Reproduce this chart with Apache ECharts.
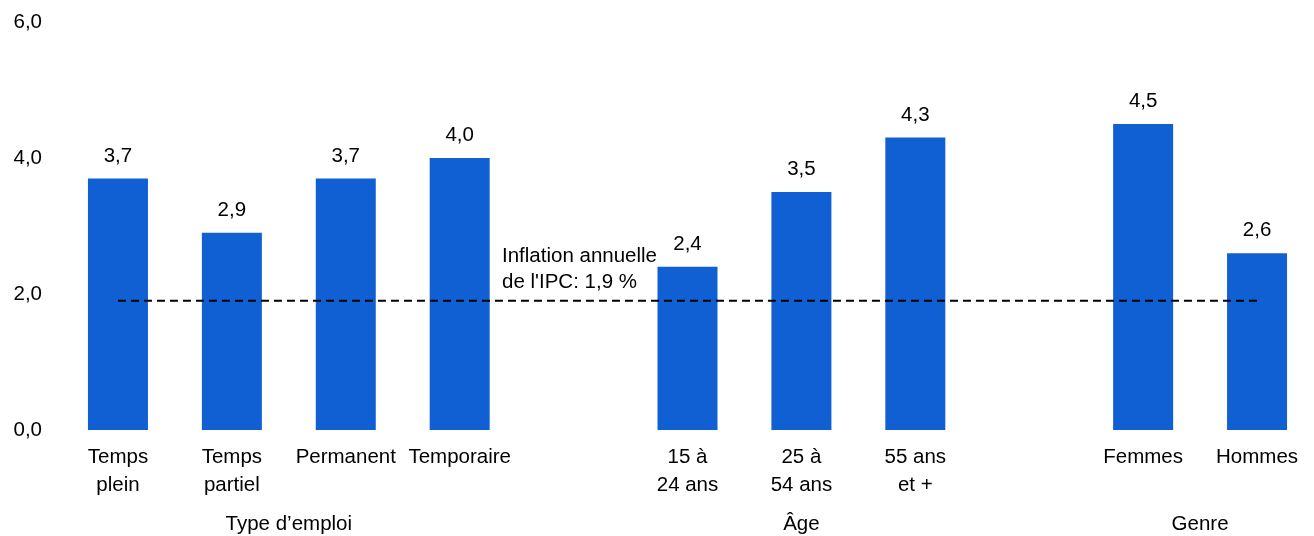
<!DOCTYPE html>
<html>
<head>
<meta charset="utf-8">
<script src="https://cdn.jsdelivr.net/npm/echarts@6/dist/echarts.min.js"></script>
<style>
  html, body { margin: 0; padding: 0; background: #fff; }
  #main { width: 1314px; height: 536px; }
</style>
</head>
<body>
<div id="main"></div>
<script>
// categories (empty slots separate the groups)
var categories = ['Temps\nplein', 'Temps\npartiel', 'Permanent', 'Temporaire', '',
  '15 à\n24 ans', '25 à\n54 ans', '55 ans\net +', '', 'Femmes', 'Hommes'];
var values = [3.7, 2.9, 3.7, 4.0, '-', 2.4, 3.5, 4.3, '-', 4.5, 2.6];
var inflation = 1.9;
var yTicks = [0, 2, 4, 6];
// group titles and the category span they sit under
var groups = [
  { name: 'Type d\u2019emploi', from: 1, to: 2 },
  { name: 'Âge', from: 6, to: 6 },
  { name: 'Genre', from: 9, to: 10 }
];

var FONT = "'Liberation Sans', Arial, sans-serif";
var SIZE = 20.5;
var fmt = function (v) { return Number(v).toFixed(1).replace('.', ','); };

var myChart = echarts.init(document.getElementById('main'));

var option = {
  animation: false,
  grid: { left: 61, right: -5, top: 22, bottom: 106 },
  xAxis: {
    type: 'category',
    data: categories,
    axisLine: { show: false },
    axisTick: { show: false },
    axisLabel: {
      interval: 0,
      color: '#000',
      fontSize: SIZE,
      fontFamily: FONT,
      lineHeight: 28,
      margin: 13
    }
  },
  yAxis: {
    type: 'value',
    min: yTicks[0],
    max: yTicks[yTicks.length - 1],
    interval: 2,
    splitLine: { show: false },
    axisLine: { show: false },
    axisTick: { show: false },
    axisLabel: {
      color: '#000',
      fontSize: SIZE,
      fontFamily: FONT,
      margin: 19,
      formatter: fmt
    }
  },
  series: [
    {
      type: 'bar',
      data: values,
      barWidth: 60,
      itemStyle: { color: '#1060d4' },
      label: {
        show: true,
        position: 'top',
        distance: 12,
        color: '#000',
        fontSize: SIZE,
        fontFamily: FONT,
        formatter: function (p) { return fmt(p.value); }
      }
    },
    {
      type: 'line',
      data: categories.map(function () { return inflation; }),
      symbol: 'none',
      z: 5,
      lineStyle: { color: '#000', width: 2, type: [8, 5] }
    }
  ]
};
myChart.setOption(option);

// group titles and inflation note placed from the axis scale
var graphics = groups.map(function (g) {
  var x0 = myChart.convertToPixel({ xAxisIndex: 0 }, categories[g.from]);
  var x1 = myChart.convertToPixel({ xAxisIndex: 0 }, categories[g.to]);
  return {
    type: 'text',
    x: (x0 + x1) / 2,
    y: 524,
    style: {
      text: g.name, fill: '#000', font: SIZE + 'px ' + FONT,
      textAlign: 'center', textVerticalAlign: 'middle'
    }
  };
});
var yInf = myChart.convertToPixel({ yAxisIndex: 0 }, inflation);
graphics.push({
  type: 'text',
  x: 502,
  y: yInf - 57,
  style: {
    text: 'Inflation annuelle\nde l\'IPC: 1,9 %', fill: '#000', font: SIZE + 'px ' + FONT,
    lineHeight: 26, textAlign: 'left', textVerticalAlign: 'top'
  }
});
myChart.setOption({ graphic: graphics });
</script>
</body>
</html>
